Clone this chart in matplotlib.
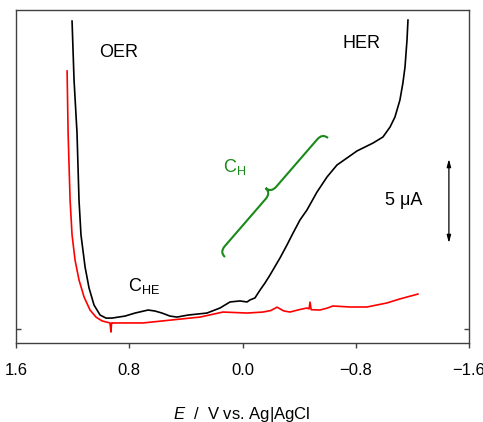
import matplotlib
matplotlib.use('Agg')
import matplotlib.pyplot as plt
from matplotlib.path import Path
from matplotlib.patches import PathPatch
import numpy as np

plt.rcParams['font.family'] = ['Liberation Sans', 'DejaVu Sans']
plt.rcParams['mathtext.fontset'] = 'custom'
plt.rcParams['mathtext.rm'] = 'Liberation Sans'
plt.rcParams['mathtext.it'] = 'Liberation Sans:italic'

# ---------------- data (E in V vs Ag|AgCl, I in uA, arbitrary zero) ----------------
black_E = [1.204, 1.190, 1.169, 1.155, 1.141, 1.112, 1.084, 1.049, 1.006, 0.964, 0.922,
           0.830, 0.759, 0.667, 0.618, 0.569, 0.512, 0.463, 0.385, 0.251, 0.159, 0.088,
           0.018, -0.032, -0.053, -0.088, -0.124, -0.159, -0.194, -0.265, -0.314,
           -0.357, -0.406, -0.455, -0.526, -0.597, -0.667, -0.738, -0.809, -0.922,
           -0.992, -1.042, -1.077, -1.112, -1.133, -1.148, -1.162, -1.169]
black_I = [18.33, 14.82, 11.67, 7.68, 5.60, 3.69, 2.44, 1.43, 0.83, 0.65, 0.65,
           0.77, 0.95, 1.13, 1.07, 0.95, 0.77, 0.71, 0.83, 0.95, 1.25, 1.61,
           1.67, 1.61, 1.73, 1.85, 2.32, 2.74, 3.21, 4.23, 5.00,
           5.71, 6.49, 7.08, 8.15, 9.05, 9.76, 10.18, 10.60, 11.07,
           11.43, 12.02, 12.62, 13.63, 14.64, 15.60, 17.20, 18.39]

red_E = [1.239, 1.232, 1.218, 1.204, 1.183, 1.155, 1.119, 1.077, 1.035, 0.992, 0.936,
         0.929, 0.925, 0.920, 0.703, 0.371, 0.300, 0.138, -0.032, -0.145, -0.200,
         -0.244, -0.290, -0.335, -0.400, -0.455, -0.470, -0.477, -0.485, -0.547,
         -0.600, -0.639, -0.759, -0.879, -1.020, -1.112, -1.239]
red_I = [15.36, 11.67, 7.68, 5.60, 4.11, 2.92, 1.90, 1.13, 0.71, 0.48, 0.36,
         -0.18, 0.36, 0.36, 0.36, 0.65, 0.71, 1.01, 0.95, 1.01, 1.10,
         1.30, 1.08, 1.01, 1.15, 1.25, 1.20, 1.60, 1.15, 1.13,
         1.25, 1.37, 1.31, 1.31, 1.55, 1.79, 2.08]

xticks = [1.6, 0.8, 0.0, -0.8, -1.6]
xtick_labels = ['1.6', '0.8', '0.0', '\u22120.8', '\u22121.6']
scale_bar_uA = 5.0

# ---------------- figure ----------------
W, H = 483, 422
fig = plt.figure(figsize=(W / 100, H / 100), dpi=100)
ax = fig.add_axes([16 / W, (H - 343) / H, 453 / W, 333 / H])

ax.plot(red_E, red_I, color='#ff0000', lw=1.2, solid_joinstyle='round')
ax.plot(black_E, black_I, color='black', lw=1.2, solid_joinstyle='round')

ax.set_xlim(1.6, -1.6)
ax.set_ylim(-0.833, 18.99)

ax.set_xticks(xticks)
ax.set_xticklabels(xtick_labels, fontsize=12)
ax.set_yticks([0])
ax.set_yticklabels([])
ax.tick_params(axis='x', direction='out', length=3.6, width=1.0, color='#404040', pad=11)
ax.tick_params(axis='y', direction='in', length=3.6, width=1.0, color='#404040',
               left=True, right=True)
for s in ax.spines.values():
    s.set_color('#404040')
    s.set_linewidth(1.0)


def px(x, y):
    return ((x - 16) / 453, (343 - y) / 333)


# texts
ax.text(*px(99, 57), 'OER', ha='left', va='baseline', fontsize=13, transform=ax.transAxes)
ax.text(*px(343, 48), 'HER', ha='left', va='baseline', fontsize=13, transform=ax.transAxes)
ax.text(*px(128, 291), r'C$_{\mathrm{HE}}$', ha='left', va='baseline', fontsize=13,
        transform=ax.transAxes)
ax.text(*px(223, 172), r'C$_{\mathrm{H}}$', ha='left', va='baseline', fontsize=13,
        color='#1a8a1a', transform=ax.transAxes)
ax.text(*px(385, 205), '5 \u03bcA', ha='left', va='baseline', fontsize=13,
        transform=ax.transAxes)

# scale bar
bar_x = -1.458
bar_y0 = 5.12
ax.annotate('', xy=(bar_x, bar_y0 + scale_bar_uA), xytext=(bar_x, bar_y0),
            arrowprops=dict(arrowstyle='<|-|>,head_length=0.45,head_width=0.12',
                            lw=0.9, color='black', shrinkA=0, shrinkB=0))

# curly brace (pixel frame, y up)
A = np.array([225.0, -257.0])
B = np.array([328.0, -138.0])
d = B - A
L = np.hypot(*d)
u = d / L
n = np.array([-u[1], u[0]])
h, r = 14.5, 8.0
local = [(0, 0), (0, h / 2), (r, h / 2), (L / 2 - r, h / 2), (L / 2, h / 2), (L / 2, h),
         (L / 2, h / 2), (L / 2 + r, h / 2), (L - r, h / 2), (L, h / 2), (L, 0)]
codes = [Path.MOVETO, Path.CURVE3, Path.CURVE3, Path.LINETO, Path.CURVE3, Path.CURVE3,
         Path.CURVE3, Path.CURVE3, Path.LINETO, Path.CURVE3, Path.CURVE3]
verts = []
for a, b in local:
    p = A + a * u + b * n
    verts.append(px(p[0], -p[1]))
ax.add_patch(PathPatch(Path(verts, codes), fill=False, edgecolor='#1a8a1a', lw=1.5,
                       transform=ax.transAxes))

# x label
fig.text(242 / W, 1 - 419 / H, r'$E$  /  V vs. Ag|AgCl', ha='center', va='baseline',
         fontsize=12)

fig.savefig('out.png', dpi=100)
